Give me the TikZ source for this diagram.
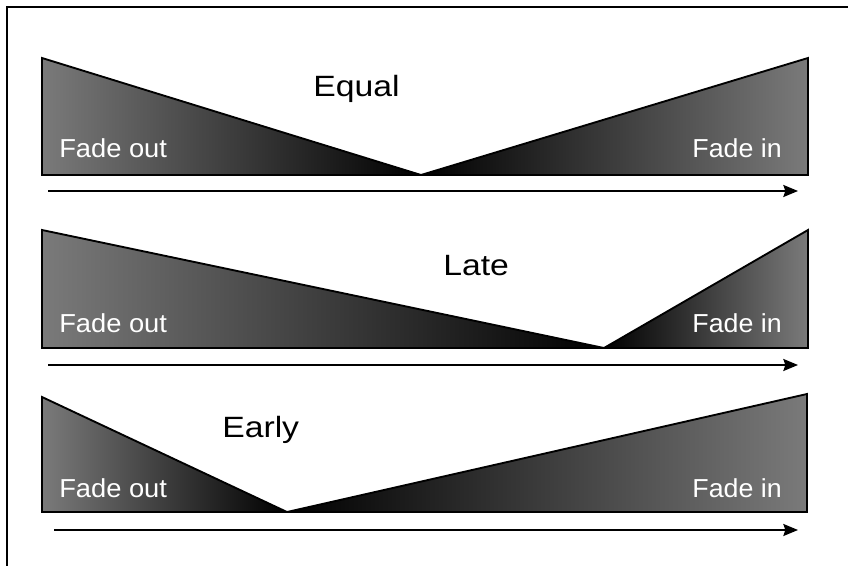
\documentclass[tikz,border=0pt]{standalone}
\usepackage{fontspec}
\setmainfont{Liberation Sans}
\usetikzlibrary{arrows.meta}
\definecolor{fadegray}{RGB}{122,122,122}
\begin{document}
\begin{tikzpicture}[x=0.75pt,y=-0.75pt,
  outline/.style={draw=black,line width=1.4pt,line join=miter},
  fadeout/.style={outline,left color=fadegray,right color=black},
  fadein/.style={outline,left color=black,right color=fadegray},
  timeline/.style={line width=1.3pt,-{Stealth[length=11pt,width=9pt,inset=1.5pt]}},
  fadelabel/.style={text=white,inner sep=0pt,font=\fontsize{19.5pt}{21pt}\selectfont},
  title/.style={text=black,inner sep=0pt,font=\fontsize{22pt}{24pt}\selectfont}]
\useasboundingbox (0,0) rectangle (848,566);
% frame
\draw[line width=1.5pt] (7,566) -- (7,7) -- (848,7);

% --- Equal ---
\coordinate (eqA) at (42,58);
\coordinate (eqM) at (421,175);
\coordinate (eqB) at (808,58);
\shadedraw[fadeout] (eqA) -- (eqM) -- (42,175) -- cycle;
\shadedraw[fadein] (eqM) -- (eqB) -- (808,175) -- cycle;
\node[fadelabel,anchor=base west] (eqout) at (59,158) {\scalebox{1.05}[1]{Fade out}};
\node[fadelabel,anchor=base east] (eqin) at (782,158) {\scalebox{1.03}[1]{Fade in}};
\node[title,anchor=base west] (eqt) at (313,97) {\scalebox{1.15}[1]{Equal}};
\coordinate (eqs) at (48,191);
\coordinate (eqe) at (798,191);
\draw[timeline] (eqs) -- (eqe);

% --- Late ---
\coordinate (laA) at (42,230);
\coordinate (laM) at (604,348);
\coordinate (laB) at (808,230);
\shadedraw[fadeout] (laA) -- (laM) -- (42,348) -- cycle;
\shadedraw[fadein] (laM) -- (laB) -- (808,348) -- cycle;
\node[fadelabel,anchor=base west] (laout) at (59,332) {\scalebox{1.05}[1]{Fade out}};
\node[fadelabel,anchor=base east] (lain) at (782,332) {\scalebox{1.03}[1]{Fade in}};
\node[title,anchor=base west] (lat) at (443,276) {\scalebox{1.15}[1]{Late}};
\coordinate (las) at (48,365);
\coordinate (lae) at (798,365);
\draw[timeline] (las) -- (lae);

% --- Early ---
\coordinate (eaA) at (42,397);
\coordinate (eaM) at (287,512);
\coordinate (eaB) at (807,394);
\shadedraw[fadeout] (eaA) -- (eaM) -- (42,512) -- cycle;
\shadedraw[fadein] (eaM) -- (eaB) -- (807,512) -- cycle;
\node[fadelabel,anchor=base west] (eaout) at (59,497) {\scalebox{1.05}[1]{Fade out}};
\node[fadelabel,anchor=base east] (eain) at (782,497) {\scalebox{1.03}[1]{Fade in}};
\node[title,anchor=base west] (eat) at (222,437) {\scalebox{1.15}[1]{Early}};
\coordinate (eas) at (54,530);
\coordinate (eae) at (798,530);
\draw[timeline] (eas) -- (eae);
\end{tikzpicture}
\end{document}
